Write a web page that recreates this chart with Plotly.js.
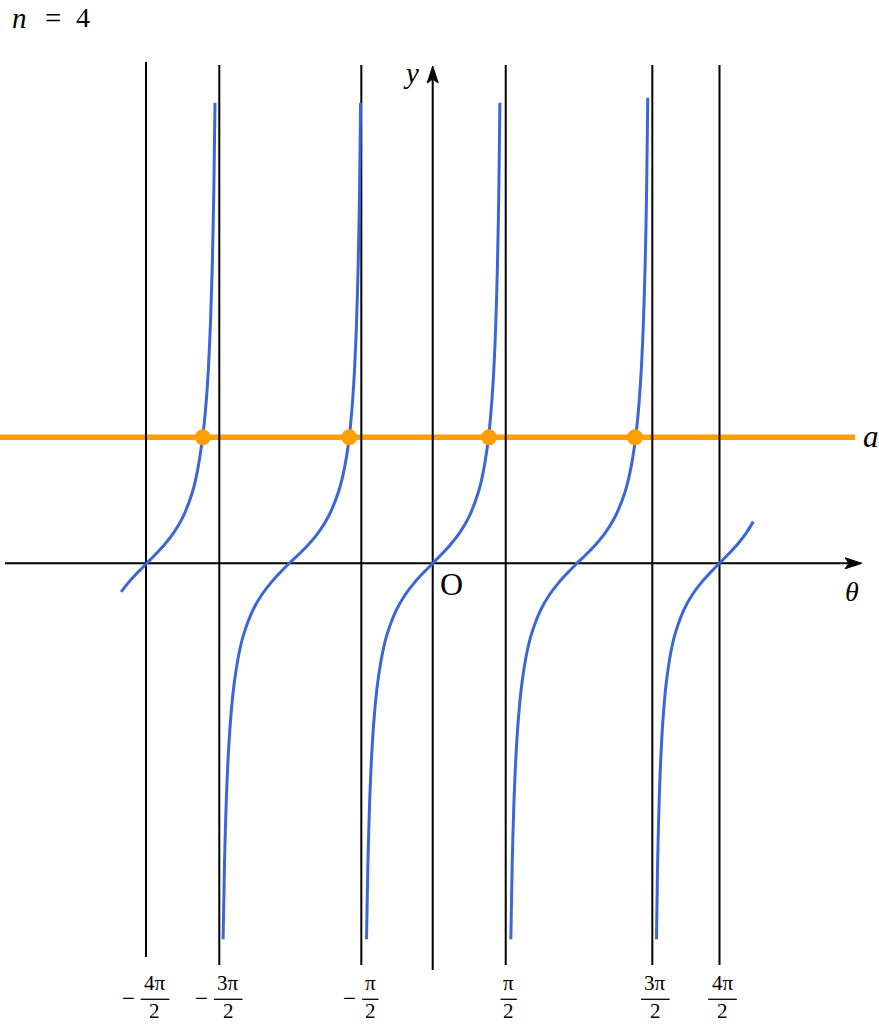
<!DOCTYPE html>
<html><head><meta charset="utf-8">
<script src="https://cdn.plot.ly/plotly-3.0.1.min.js"></script>
<style>html,body{margin:0;padding:0;background:#fff;}#chart{width:879px;height:1024px;}</style>
</head><body><div id="chart"></div>
<script>
// ---------- data ----------
const tickValues = [-6.282, -4.676, -1.564, 1.600, 4.812, 6.284];
const tickSigns = ['−', '−', '−', '', '', ''];
const tickNumerators = ['4π', '3π', 'π', 'π', '3π', '4π'];
const tickDenominators = ['2', '2', '2', '2', '2', '2'];
const aLevel = 2.76;
const rootX = [-5.039, -1.827, 1.234, 4.432];

const branch1X = [-6.826, -6.666, -6.466, -6.266, -6.066, -5.866, -5.666, -5.466, -5.266, -5.166, -5.066, -5.012, -4.958, -4.915, -4.873, -4.828, -4.795, -4.770];
const branch1Y = [-0.627, -0.423, -0.203, 0, 0.203, 0.423, 0.684, 1.030, 1.557, 1.965, 2.572, 3.010, 3.602, 4.256, 5.177, 6.581, 8.238, 10.09];

const branch2X = [-4.592, -4.562, -4.522, -4.482, -4.442, -4.392, -4.342, -4.242, -4.142, -3.942, -3.742, -3.542, -3.342, -3.142, -2.927, -2.712, -2.497, -2.282, -2.067, -1.959, -1.852, -1.802, -1.752, -1.712, -1.672, -1.632, -1.602, -1.580];
const branch2Y = [-8.238, -6.581, -5.177, -4.256, -3.602, -3.010, -2.572, -1.965, -1.557, -1.030, -0.684, -0.423, -0.203, 0, 0.203, 0.423, 0.684, 1.030, 1.557, 1.965, 2.572, 3.010, 3.602, 4.256, 5.177, 6.581, 8.238, 10.09];

const branch3X = [-1.450, -1.420, -1.380, -1.340, -1.300, -1.250, -1.200, -1.100, -1.000, -0.800, -0.600, -0.400, -0.200, 0, 0.200, 0.400, 0.600, 0.800, 1.000, 1.100, 1.200, 1.250, 1.300, 1.340, 1.380, 1.420, 1.450, 1.472];
const branch3Y = [-8.238, -6.581, -5.177, -4.256, -3.602, -3.010, -2.572, -1.965, -1.557, -1.030, -0.684, -0.423, -0.203, 0, 0.203, 0.423, 0.684, 1.030, 1.557, 1.965, 2.572, 3.010, 3.602, 4.256, 5.177, 6.581, 8.238, 10.09];

const branch4X = [1.712, 1.742, 1.782, 1.822, 1.862, 1.912, 1.962, 2.062, 2.162, 2.362, 2.562, 2.762, 2.962, 3.162, 3.372, 3.582, 3.792, 4.002, 4.212, 4.317, 4.422, 4.475, 4.528, 4.571, 4.613, 4.656, 4.688, 4.712];
const branch4Y = [-8.238, -6.581, -5.177, -4.256, -3.602, -3.010, -2.572, -1.965, -1.557, -1.030, -0.684, -0.423, -0.203, 0, 0.203, 0.423, 0.684, 1.030, 1.557, 1.965, 2.572, 3.010, 3.602, 4.256, 5.177, 6.581, 8.238, 10.20];

const branch5X = [4.903, 4.928, 4.963, 4.998, 5.033, 5.078, 5.123, 5.215, 5.308, 5.498, 5.691, 5.887, 6.084, 6.283, 6.483, 6.683, 6.883, 7.023];
const branch5Y = [-8.238, -6.581, -5.177, -4.256, -3.602, -3.010, -2.572, -1.965, -1.557, -1.030, -0.684, -0.423, -0.203, 0, 0.203, 0.423, 0.684, 0.913];

// ---------- geometry helpers ----------
const W = 879, H = 1024, S = 45.64, X0 = 432.7, Y0 = 563.3;
const dx = px => (px - X0) / S;
const dy = py => (Y0 - py) / S;
const SERIF = '"Liberation Serif", "DejaVu Serif", serif';
const BLUE = '#3a66d6', ORANGE = '#ffa000', BLACK = '#000000';

const traces = [];
// orange level line
traces.push({x: [dx(0), dx(855)], y: [aLevel, aLevel], mode: 'lines',
  line: {color: ORANGE, width: 5.5}, hoverinfo: 'skip'});
// black vertical lines + axes
const vx = [], vy = [];
tickValues.forEach((v, i) => {
  vx.push(v, v, null);
  vy.push(dy(i === 0 ? 62 : 65), dy(i === 0 ? 957 : 965), null);
});
vx.push(0, 0, null, dx(5), dx(850));
vy.push(dy(970), dy(78), null, 0, 0);
traces.push({x: vx, y: vy, mode: 'lines', line: {color: BLACK, width: 2}, hoverinfo: 'skip'});
// tangent branches
[[branch1X, branch1Y], [branch2X, branch2Y], [branch3X, branch3Y], [branch4X, branch4Y], [branch5X, branch5Y]].forEach(b => {
  traces.push({x: b[0], y: b[1], mode: 'lines', line: {color: BLUE, width: 3, shape: 'spline', smoothing: 0.8}, hoverinfo: 'skip'});
});
// intersection points
traces.push({x: rootX, y: rootX.map(() => aLevel), mode: 'markers',
  marker: {color: ORANGE, size: 16}, hoverinfo: 'skip'});

const shapes = [];
// arrowheads
shapes.push({type: 'path', xref: 'x', yref: 'y', layer: 'above',
  path: `M ${dx(862)} ${dy(563.3)} L ${dx(845)} ${dy(557.8)} L ${dx(849)} ${dy(563.3)} L ${dx(845)} ${dy(568.8)} Z`,
  fillcolor: BLACK, line: {color: BLACK, width: 1}});
shapes.push({type: 'path', xref: 'x', yref: 'y', layer: 'above',
  path: `M ${dx(432.7)} ${dy(66)} L ${dx(427.2)} ${dy(83)} L ${dx(432.7)} ${dy(79)} L ${dx(438.2)} ${dy(83)} Z`,
  fillcolor: BLACK, line: {color: BLACK, width: 1}});

const annotations = [];
const ann = (x, y, text, size, extra) => Object.assign({
  xref: 'x', yref: 'y', x: x, y: y, text: text, showarrow: false, borderpad: 0,
  xanchor: 'center', yanchor: 'middle', font: {family: SERIF, size: size, color: BLACK}}, extra || {});

// tick labels as stacked fractions
tickValues.forEach((v, i) => {
  const off = tickSigns[i] ? 9 : 3;
  const half = tickNumerators[i].length > 1 ? 14.3 : 8.2;
  const cx = v + off / S;
  annotations.push(ann(cx, dy(983), tickNumerators[i], 21));
  annotations.push(ann(cx, dy(1023.5), tickDenominators[i], 21, {yanchor: 'bottom'}));
  shapes.push({type: 'line', xref: 'x', yref: 'y', x0: cx - half / S, x1: cx + half / S,
    y0: dy(999.3), y1: dy(999.3), line: {color: BLACK, width: 1.3}, layer: 'above'});
  if (tickSigns[i]) {
    annotations.push(ann(cx - (half + 12.5) / S, dy(998.5), tickSigns[i], 23));
  }
});

// other texts
annotations.push(ann(dx(19), dy(0.5), '<i>n</i>', 29, {yanchor: 'top'}));
annotations.push(ann(dx(52.5), dy(0.5), '=', 29, {yanchor: 'top'}));
annotations.push(ann(dx(83.3), dy(0.5), '4', 28, {yanchor: 'top'}));
annotations.push(ann(dx(410.5), dy(73), '<i>y</i>', 29));
annotations.push(ann(dx(451), dy(584), 'O', 32));
annotations.push(ann(dx(852), dy(591), '<i>θ</i>', 28));
annotations.push(ann(dx(870.5), dy(436), '<i>a</i>', 31));

const layout = {
  width: W, height: H, margin: {l: 0, r: 0, t: 0, b: 0},
  paper_bgcolor: '#ffffff', plot_bgcolor: '#ffffff', showlegend: false,
  xaxis: {range: [dx(0), dx(W)], visible: false, fixedrange: true},
  yaxis: {range: [dy(H), dy(0)], visible: false, fixedrange: true},
  shapes: shapes, annotations: annotations
};
Plotly.newPlot('chart', traces, layout, {staticPlot: true, displayModeBar: false});
</script></body></html>
